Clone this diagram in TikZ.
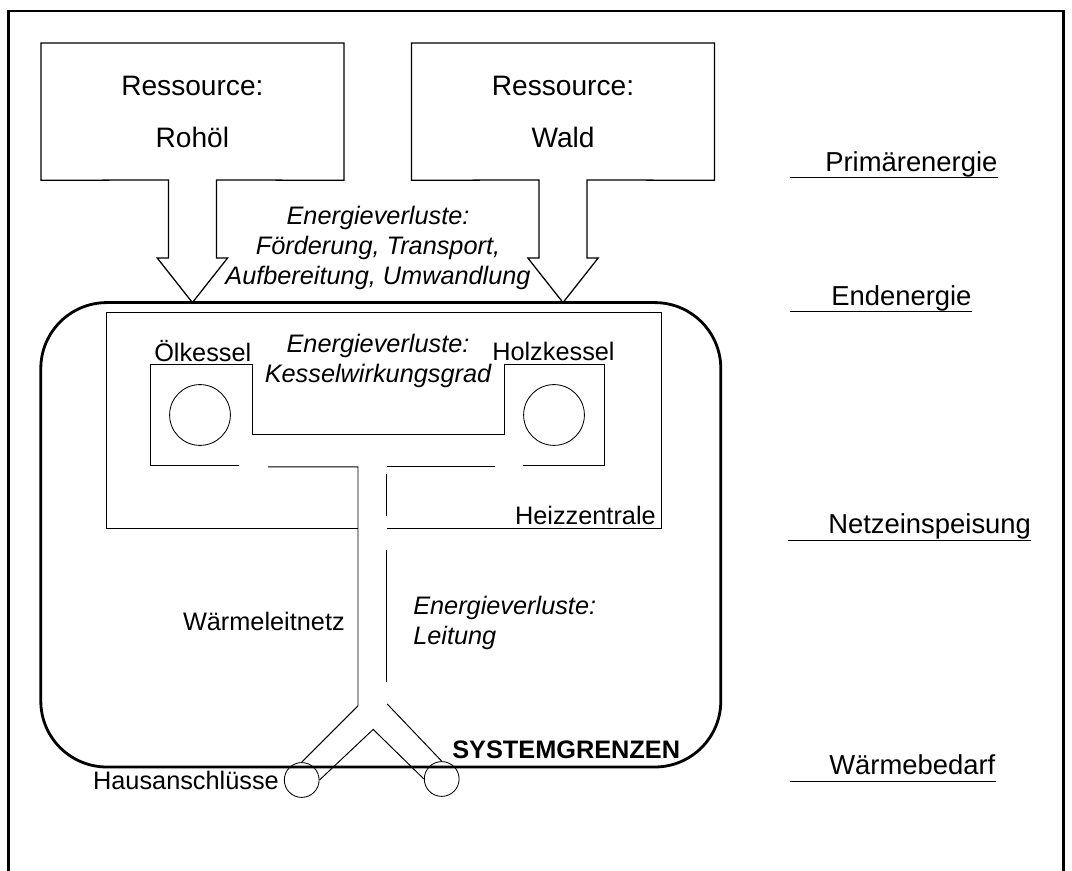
\documentclass[tikz,border=0pt]{standalone}
\usepackage{fontspec}
\setmainfont{Liberation Sans}
\usetikzlibrary{positioning}

\tikzset{
	frame/.style={line width=2pt},
	boxline/.style={line width=0.9pt},
	pipe/.style={line width=0.7pt},
	grenze/.style={line width=2pt, rounded corners=1.65cm},
	box/.style={inner sep=0pt, minimum width=7.56cm, minimum height=3.42cm, align=center, font=\fontsize{20}{37}\selectfont},
	txt/.style={inner sep=0pt, font=\fontsize{18}{21.3}\selectfont},
	lost/.style={inner sep=0pt, align=center, font=\fontsize{18}{21.3}\selectfont\itshape},
	level/.style={inner sep=0pt, anchor=base west, font=\fontsize{19.5}{23}\selectfont},
	kessel/.style={circle, draw, line width=0.6pt, minimum size=1.52cm, inner sep=0pt},
	haus/.style={circle, draw, line width=0.6pt, minimum size=0.87cm, inner sep=0pt}
}

\begin{document}
\begin{tikzpicture}
		\useasboundingbox (0,0) rectangle (26.8,21.775);
		% frame
		\draw[frame] (0.21,0) -- (0.21,21.5) -- (26.58,21.5) -- (26.58,0);
		% resources
		\node[box] (rohoel) at (4.81,18.985) {Ressource:\\Rohöl};
		\node[box] (wald) at (14.075,18.985) {Ressource:\\Wald};
		\coordinate (oeltip) at (4.81,14.21);
		\coordinate (holztip) at (14.075,14.21);
		\draw[boxline] (rohoel.south west) -- (rohoel.north west) -- (rohoel.north east) -- (rohoel.south east)
			-- (5.41,17.275) -- (5.41,15.325) -- (5.69,15.325) -- (oeltip)
			-- (3.93,15.325) -- (4.21,15.325) -- (4.21,17.275) -- cycle;
		\draw[boxline] (wald.south west) -- (wald.north west) -- (wald.north east) -- (wald.south east)
			-- (14.675,17.275) -- (14.675,15.325) -- (14.955,15.325) -- (holztip)
			-- (13.195,15.325) -- (13.475,15.325) -- (13.475,17.275) -- cycle;
		\node[lost] (verlust1) at (9.45,15.575) {Energieverluste:\\Förderung, Transport,\\Aufbereitung, Umwandlung};
		% system boundary
		\draw[grenze] (1.02,2.6) rectangle (18.02,14.21);
		\node[txt, font=\fontsize{18}{21.3}\selectfont\bfseries, anchor=base west] (grenzlabel) at (11.3,2.8) {SYSTEMGRENZEN};
		% heating plant
		\draw[pipe] (8.95,8.575) -- (2.65,8.575) -- (2.65,13.96) -- (16.525,13.96) -- (16.525,8.575) -- (9.675,8.575);
		\node[txt, anchor=base east] (zentrale) at (16.4,8.67) {Heizzentrale};
		% boilers
		\draw[pipe] (5.975,10.15) -- (3.77,10.15) -- (3.77,12.65) -- (6.3,12.65) -- (6.3,10.9)
			-- (12.6,10.9) -- (12.6,12.65) -- (15.1,12.65) -- (15.1,10.15) -- (13.075,10.15);
		\node[kessel] (oelk) at (5.0,11.4) {};
		\node[kessel] (holzk) at (13.85,11.4) {};
		\node[txt, anchor=base west] (oellabel) at (3.85,12.725) {Ölkessel};
		\node[txt, anchor=base west] (holzlabel) at (12.3,12.75) {Holzkessel};
		\node[lost] (verlust2) at (9.45,12.74) {Energieverluste:\\Kesselwirkungsgrad};
		% heat network
		\node[haus] (haus1) at (7.5425,2.275) {};
		\node[haus] (haus2) at (11.0425,2.3) {};
		\coordinate (knickL) at (8.95,4.13);
		\coordinate (knickR) at (9.68,4.175);
		\coordinate (spitze) at (9.33,3.54);
		\draw[pipe] (6.7,10.1) -- (8.95,10.1) -- (knickL) -- (haus1.north);
		\draw[pipe] (9.675,10.125) -- (12.375,10.125);
		\draw[pipe] (9.65,9.925) -- (9.65,8.875);
		\draw[pipe] (9.65,8.025) -- (9.65,4.73);
		\draw[pipe] (knickR) -- (haus2.north);
		\draw[pipe] (haus1.east) -- (spitze) -- (haus2.west);
		\node[txt, anchor=base east] (netz) at (8.625,6.0) {Wärmeleitnetz};
		\node[txt, left=0.12cm of haus1] (hausan) {Hausanschlüsse};
		\node[lost, align=left, anchor=west] (verlust3) at (10.325,6.21) {Energieverluste:\\Leitung};
		% levels
		\node[level] (prim) at (20.625,17.475) {Primärenergie};
		\node[level] (ende) at (20.775,14.14) {Endenergie};
		\node[level] (einsp) at (20.7,8.425) {Netzeinspeisung};
		\node[level] (bedarf) at (20.725,2.4) {Wärmebedarf};
		\draw[pipe] (19.75,17.325) -- (prim.east |- 19.75,17.325);
		\draw[pipe] (19.75,13.99) -- (ende.east |- 19.75,13.99);
		\draw[pipe] (19.7,8.275) -- (einsp.east |- 19.7,8.275);
		\draw[pipe] (19.75,2.25) -- (bedarf.east |- 19.75,2.25);
\end{tikzpicture}
\end{document}
